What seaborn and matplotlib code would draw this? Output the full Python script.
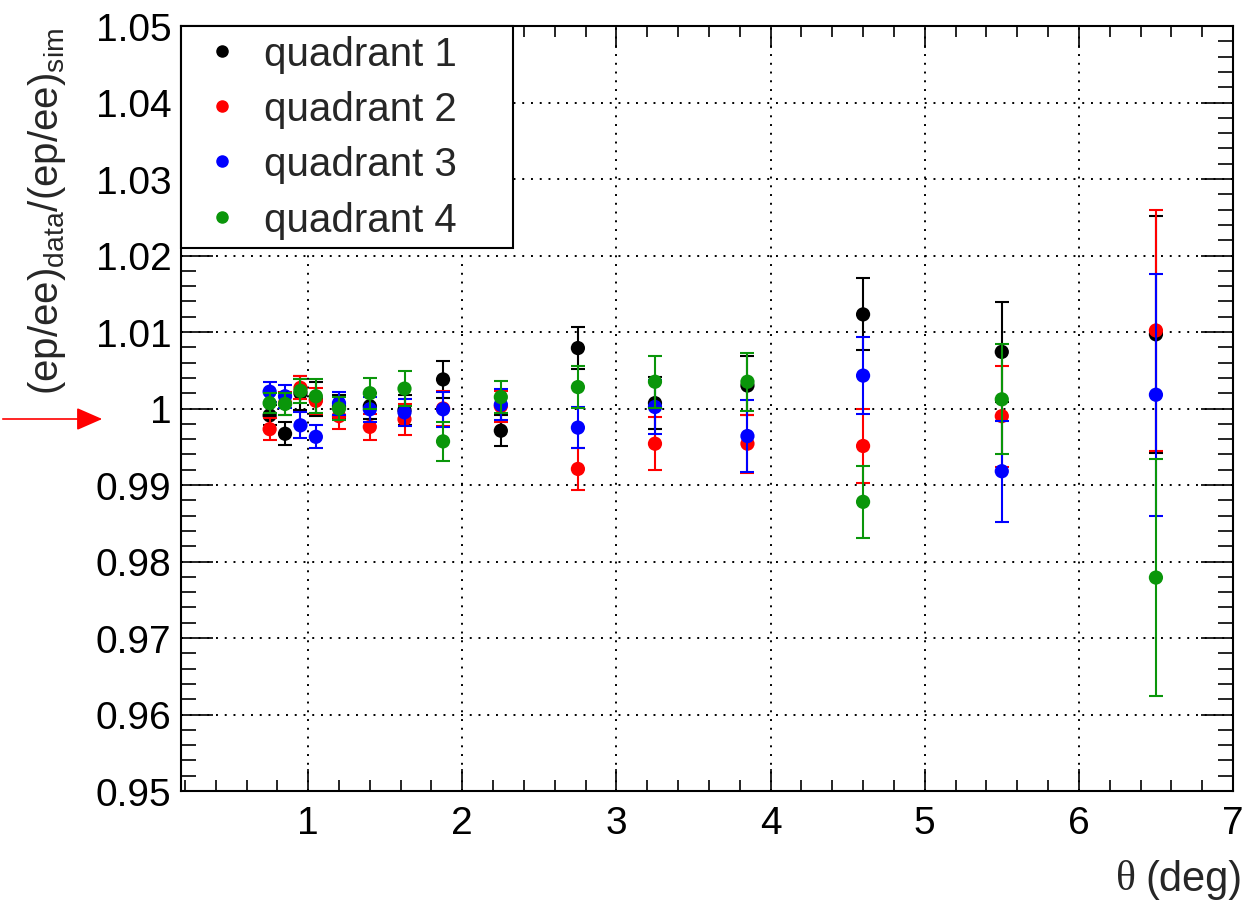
import numpy as np
import pandas as pd
import matplotlib
matplotlib.use("Agg")
import matplotlib.pyplot as plt
import seaborn as sns
from matplotlib.ticker import MultipleLocator, FixedLocator

# ---- data ----
theta = [0.75, 0.85, 0.95, 1.05, 1.2, 1.4, 1.625, 1.875, 2.25, 2.75, 3.25, 3.85, 4.6, 5.5, 6.5]
quadrants = ["quadrant 1", "quadrant 2", "quadrant 3", "quadrant 4"]
q1_val = [0.9991, 0.9967, 1.0020, 1.0012, 1.0003, 1.0003, 0.9998, 1.0038, 0.9971, 1.0079, 1.0007, 1.0030, 1.0123, 1.0074, 1.0097]
q1_err = [0.0013, 0.0015, 0.0022, 0.0022, 0.0015, 0.0017, 0.0020, 0.0024, 0.0020, 0.0028, 0.0034, 0.0038, 0.0047, 0.0065, 0.0155]
q2_val = [0.9973, 1.0007, 1.0027, 1.0010, 0.9990, 0.9976, 0.9986, 1.0000, 1.0003, 0.9921, 0.9954, 0.9954, 0.9951, 0.9990, 1.0102]
q2_err = [0.0014, 0.0015, 0.0015, 0.0017, 0.0017, 0.0017, 0.0020, 0.0023, 0.0020, 0.0027, 0.0035, 0.0038, 0.0048, 0.0066, 0.0157]
q3_val = [1.0022, 1.0016, 0.9978, 0.9963, 1.0007, 0.9999, 0.9995, 0.9999, 1.0005, 0.9975, 1.0002, 0.9964, 1.0043, 0.9918, 1.0018]
q3_err = [0.0013, 0.0015, 0.0017, 0.0015, 0.0015, 0.0016, 0.0018, 0.0023, 0.0020, 0.0027, 0.0035, 0.0047, 0.0050, 0.0066, 0.0158]
q4_val = [1.0007, 1.0006, 1.0023, 1.0016, 1.0000, 1.0020, 1.0026, 0.9957, 1.0015, 1.0028, 1.0035, 1.0035, 0.9878, 1.0012, 0.9779]
q4_err = [0.0013, 0.0014, 0.0016, 0.0022, 0.0015, 0.0020, 0.0023, 0.0025, 0.0021, 0.0027, 0.0034, 0.0038, 0.0047, 0.0072, 0.0155]
colors = ["#000000", "#ff0000", "#0000ff", "#0a960a"]
y_ticks = [0.95, 0.96, 0.97, 0.98, 0.99, 1.00, 1.01, 1.02, 1.03, 1.04, 1.05]
y_ticklabels = ["0.95", "0.96", "0.97", "0.98", "0.99", "1", "1.01", "1.02", "1.03", "1.04", "1.05"]
x_ticks = [1, 2, 3, 4, 5, 6, 7]

vals = [q1_val, q2_val, q3_val, q4_val]
errs = [q1_err, q2_err, q3_err, q4_err]
df = pd.concat([
    pd.DataFrame({"theta": theta, "ratio": v, "err": e, "quadrant": q})
    for q, v, e in zip(quadrants, vals, errs)
], ignore_index=True)

sns.set_style("ticks")
plt.rcParams["font.family"] = ["Liberation Sans", "DejaVu Sans"]
plt.rcParams["mathtext.default"] = "regular"

fig = plt.figure(figsize=(12.5, 9.03), dpi=100)
ax = fig.add_axes([181 / 1250, 1 - 792 / 903, (1233 - 181) / 1250, (792 - 27) / 903])

for i, q in enumerate(quadrants):
    sub = df[df["quadrant"] == q]
    ax.errorbar(sub["theta"], sub["ratio"], yerr=sub["err"], fmt="none",
                ecolor=colors[i], elinewidth=1.5, capsize=5, capthick=1.5,
                zorder=3 + 2 * i)
    sns.scatterplot(data=sub, x="theta", y="ratio", color=colors[i], s=105,
                    edgecolor="none", linewidth=0, ax=ax, zorder=4 + 2 * i,
                    label=q, legend=False)

ax.set_xlim(0.175, 7.0)
ax.set_ylim(0.95, 1.05)
ax.yaxis.set_major_locator(FixedLocator(y_ticks))
ax.set_yticklabels(y_ticklabels)
ax.yaxis.set_minor_locator(MultipleLocator(0.002))
ax.xaxis.set_major_locator(FixedLocator(x_ticks))
ax.set_xticklabels([str(t) for t in x_ticks])
ax.xaxis.set_minor_locator(MultipleLocator(0.2))
ax.set_xlabel("")
ax.set_ylabel("")

ax.grid(True, which="major", color="black", linestyle=(0, (1, 3.5)), linewidth=1.4)
for s in ax.spines.values():
    s.set_linewidth(1.5)
    s.set_color("black")

ax.tick_params(axis="both", which="both", direction="in", top=True, right=True,
               width=1.2, colors="black", labelsize=28)
ax.tick_params(axis="y", which="major", length=23, pad=7)
ax.tick_params(axis="y", which="minor", length=11)
ax.tick_params(axis="x", which="major", length=16, pad=10)
ax.tick_params(axis="x", which="minor", length=8)

# legend
handles = [plt.Line2D([], [], linestyle="none", marker="o", markersize=8,
                      markerfacecolor=c, markeredgecolor=c) for c in colors]
leg = ax.legend(handles, quadrants, loc="upper left",
                bbox_to_anchor=(0.0, 0.714, 0.3156, 0.286), mode="expand",
                borderaxespad=0.0, frameon=True, fancybox=False, framealpha=1,
                edgecolor="black", fontsize=29, labelspacing=0.43,
                handletextpad=0.25, borderpad=0.22, handlelength=1.6)
leg.get_frame().set_linewidth(1.5)
leg.set_zorder(20)

# axis titles
fig.text(0.038, 1 - 28 / 903, r"(ep/ee)$_{data}$/(ep/ee)$_{sim}$", rotation=90,
         ha="center", va="top", fontsize=29)
fig.text(1243 / 1250, 1 - 880 / 903, "(deg)", ha="right", va="center", fontsize=30)
fig.text(1136 / 1250, 1 - 880 / 903, "θ", ha="right", va="center", fontsize=30,
         family=["Liberation Serif", "DejaVu Serif"])

# red arrow on the left
fig.add_artist(matplotlib.patches.FancyArrowPatch(
    (0.0, 1 - 420 / 903), (105 / 1250, 1 - 420 / 903), transform=fig.transFigure,
    arrowstyle="-|>,head_length=16,head_width=7", mutation_scale=1,
    color="red", linewidth=1.2))

fig.savefig("out.png", dpi=100)
